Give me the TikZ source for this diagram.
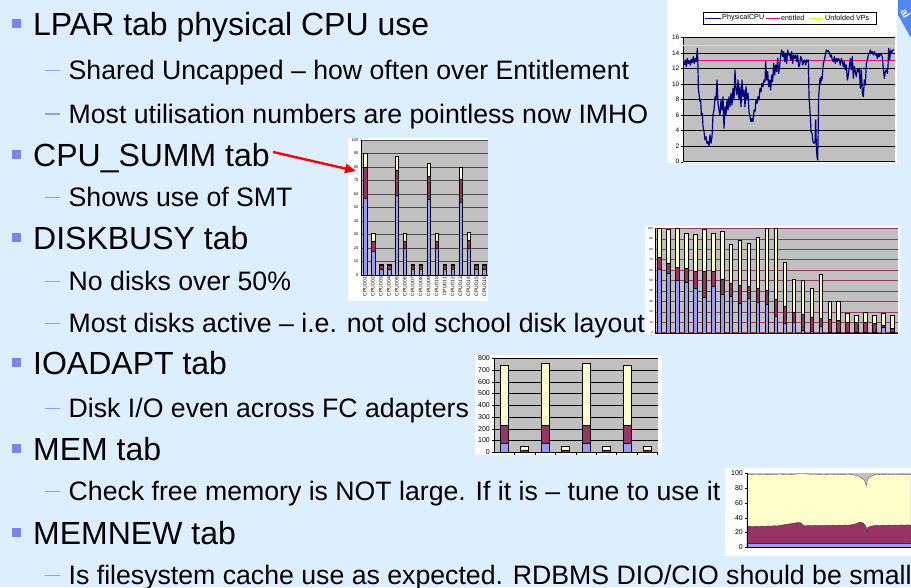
\documentclass[tikz,border=0pt]{standalone}
\usepackage{fontspec}
\setmainfont{Liberation Sans}
\usetikzlibrary{arrows.meta}
\definecolor{slidebg}{HTML}{DDEEFF}
\definecolor{bulletsq}{HTML}{8080F2}
\definecolor{dashcol}{HTML}{8FA0FF}
\definecolor{plotgray}{HTML}{C0C0C0}
\definecolor{serblue}{HTML}{9999FF}
\definecolor{sermaroon}{HTML}{993366}
\definecolor{seryellow}{HTML}{FFFFCC}
\definecolor{cpunavy}{HTML}{000080}
\definecolor{ribbonblue}{HTML}{5088F0}
\begin{document}
\begin{tikzpicture}[x=1pt,y=-1pt,
  mainitem/.style={anchor=base west,inner sep=0pt,font=\fontsize{32}{36}\selectfont},
  subitem/.style={anchor=base west,inner sep=0pt,font=\fontsize{26.67}{30}\selectfont},
  subdash/.style={dashcol,line width=1.8pt},
  axlab/.style={anchor=east,inner sep=0pt,font=\fontsize{#1}{#1}\selectfont},
  grid/.style={line width=0.45pt},
  barseg/.style={draw=black,line width=0.3pt}]
\useasboundingbox (0,0) rectangle (911,587);
\fill[slidebg] (0,0) rectangle (911,587);

% ---------- bullets ----------
\foreach \yb in {35,166,249,374,460,544}
  \fill[bulletsq] (12,\yb-16) rectangle ++(9,9);
\foreach \yb in {79.5,123,206.5,290.5,332.5,417.5,500.5,584.5}
  \draw[subdash] (45,\yb-9) -- (60,\yb-9);

% ---------- text ----------
\node[mainitem] (t1) at (33,35) {LPAR tab physical CPU use};
\node[subitem] (t2) at (68.5,79.5) {Shared Uncapped – how often over Entitlement};
\node[subitem] (t3) at (68.5,123) {Most utilisation numbers are pointless now IMHO};
\node[mainitem] (t4) at (33,166) {CPU\_SUMM tab};
\node[subitem] (t5) at (68.5,206.5) {Shows use of SMT};
\node[mainitem] (t6) at (33,249) {DISKBUSY tab};
\node[subitem] (t7) at (68.5,290.5) {No disks over 50\%};
\node[subitem] (t8) at (68.5,332.5) {Most disks active – i.e. not old school disk layout};
\node[mainitem] (t9) at (33,374) {IOADAPT tab};
\node[subitem] (t10) at (68.5,417.5) {Disk I/O even across FC adapters};
\node[mainitem] (t11) at (33,460) {MEM tab};
\node[subitem] (t12) at (68.5,500.5) {Check free memory is NOT large. If it is – tune to use it};
\node[mainitem] (t13) at (33,544) {MEMNEW tab};
\node[subitem] (t14) at (68.5,584.5) {Is filesystem cache use as expected. RDBMS DIO/CIO should be small};

% ---------- LPAR physical CPU chart ----------
\fill[white] (667,0) rectangle (897,163);
\fill[plotgray] (683.3,37.3) rectangle (895,161.7);
\foreach \v in {0,2,...,16}{
  \draw[grid] (683.3,{161.7-\v*7.775}) -- (895,{161.7-\v*7.775});
  \draw[line width=0.4pt] (681,{161.7-\v*7.775}) -- (683.3,{161.7-\v*7.775});
  \node[axlab=6.5] at (679.5,{161.7-\v*7.775}) {\v};
}
\draw[line width=0.4pt] (683.3,37.3) -- (683.3,161.7);
\draw[yellow,line width=1pt] (683.3,45.1) -- (895,45.1);
\draw[magenta,line width=1pt] (683.3,60.6) -- (895,60.6);
\begin{scope}[shift={(645,0)},scale=1/3]
\draw[cpunavy,line width=1.2pt,line join=round] plot coordinates {
(118,195)(121,180)(124,200)(127,175)(130,190)(133,182)(136,195)(139,178)(142,188)(145,170)(148,190)(151,175)(154,185)(157,145)(159,200)(160,265)(163,290)(165,305)(167,300)(169,345)(172,340)(174,380)(177,395)(180,420)(183,410)(186,430)(189,425)(192,438)(195,405)(198,430)(201,410)(204,345)(207,330)(210,290)(213,300)(216,240)(219,310)(222,330)(225,345)(228,300)(231,330)(234,290)(237,385)(240,320)(243,345)(246,300)(249,330)(252,290)(255,320)(258,280)(261,315)(264,265)(267,300)(270,210)(273,270)(276,285)(279,240)(282,300)(285,260)(288,320)(291,240)(294,290)(297,270)(300,320)(303,260)(306,300)(309,280)(312,335)(315,350)(318,365)(321,355)(324,365)(327,330)(330,335)(333,300)(336,310)(339,290)(342,300)(345,265)(348,275)(351,250)(354,260)(357,240)(360,245)(362,185)(365,240)(368,215)(371,260)(374,240)(377,270)(380,225)(383,245)(386,190)(389,225)(392,195)(395,215)(398,175)(401,220)(404,200)(407,165)(410,150)(413,170)(416,155)(419,185)(422,160)(425,190)(428,150)(431,165)(434,160)(437,180)(440,155)(443,190)(446,165)(449,175)(452,165)(455,185)(458,165)(461,200)(464,195)(467,170)(470,175)(473,195)(476,185)(479,180)(482,195)(485,180)(488,185)(490,180)(492,290)(494,320)(496,350)(498,395)(501,400)(504,425)(507,430)(510,428)(512,360)(514,440)(516,470)(518,480)(519,430)(521,290)(523,260)(525,235)(527,250)(529,230)(531,240)(533,215)(535,190)(538,180)(541,165)(544,150)(547,155)(550,152)(553,158)(556,170)(559,165)(562,180)(565,185)(568,170)(571,190)(574,175)(577,185)(580,175)(583,180)(586,195)(589,175)(592,185)(595,200)(598,185)(601,210)(604,195)(607,240)(610,225)(613,200)(616,175)(619,210)(622,170)(625,235)(628,200)(631,215)(634,230)(637,205)(640,215)(643,205)(646,265)(649,210)(652,280)(655,290)(658,240)(661,255)(664,190)(667,180)(670,165)(673,160)(676,150)(679,160)(682,155)(685,165)(688,155)(691,165)(694,160)(697,175)(700,160)(703,170)(706,160)(709,165)(712,170)(715,205)(718,235)(721,215)(724,210)(727,220)(729,200)(731,145)(734,180)(737,150)(740,160)(743,150)(747,150)};
\end{scope}
% legend
\draw[fill=white,line width=0.4pt] (703,12) rectangle (876,24);
\draw[cpunavy,line width=1pt] (705,18) -- (721,18);
\node[anchor=west,inner sep=0pt,font=\fontsize{7.2}{8}\selectfont] (lg1) at (722,18) {PhysicalCPU};
\draw[magenta,line width=1pt] (766,18) -- (780,18);
\node[anchor=west,inner sep=0pt,font=\fontsize{7.2}{8}\selectfont] (lg2) at (781,18) {entitled};
\draw[yellow,line width=1pt] (809,18) -- (823,18);
\node[anchor=west,inner sep=0pt,font=\fontsize{7.2}{8}\selectfont] (lg3) at (825,18) {Unfolded VPs};

% ---------- CPU_SUMM chart ----------
\fill[white] (348,138) rectangle (488,301);
\fill[plotgray] (361,140) rectangle (488,275);
\foreach \v in {0,10,...,100}{
  \draw[grid,black!70] (361,{275-\v*1.35}) -- (488,{275-\v*1.35});
  \node[axlab=4] at (358.5,{275-\v*1.35}) {\v};
}
\draw[line width=0.4pt] (361,140) -- (361,275) -- (488,275);
\begin{scope}[shift={(0,275)},yscale=-1.35]
\foreach \i/\b/\r/\w in {1/57/80/90,2/18/25/31,3/4/7/8,4/4/7/8,5/59/78/88,6/20/25/31,7/4/7/8,8/4/7/8,9/56/73/83,10/20/25/31,11/4/7/8,12/4/7/8,13/54/71/80,14/20/26/32,15/4/7/8,16/4/7/8}{
  \pgfmathsetmacro\xc{365+(\i-1)*7.96}
  \filldraw[barseg,fill=serblue] (\xc-1.8,0) rectangle (\xc+1.8,\b);
  \filldraw[barseg,fill=sermaroon] (\xc-1.8,\b) rectangle (\xc+1.8,\r);
  \filldraw[barseg,fill=seryellow] (\xc-1.8,\r) rectangle (\xc+1.8,\w);
}
\end{scope}
\foreach \i/\lab in {1/CPU001,2/CPU002,3/CPU003,4/CPU004,5/CPU005,6/CPU006,7/CPU007,8/CPU008,9/CPU009,10/CPU010,11/CPU011,12/CPU012,13/CPU013,14/CPU014,15/CPU015,16/CPU016}{
  \pgfmathsetmacro\xc{365+(\i-1)*7.96}
  \node[rotate=90,anchor=east,inner sep=0pt,font=\fontsize{5}{5}\selectfont] at (\xc,277) {\lab};
}

% ---------- DISKBUSY chart ----------
\fill[white] (645,226) rectangle (900,335);
\fill[plotgray] (655,228.3) rectangle (898,332.7);
\foreach \v in {0,10,...,100}{
  \draw[grid,sermaroon] (655,{332.7-\v*1.044}) -- (898,{332.7-\v*1.044});
  \node[axlab=3] at (653,{332.7-\v*1.044}) {\v};
}
\draw[line width=0.4pt] (655,228.3) -- (655,332.7) -- (898,332.7);
\begin{scope}[shift={(0,332.7)},yscale=-1.044]
\foreach \i/\b/\r/\w in {1/61/72/100,2/57/67/99,3/50/63/100,4/48.5/62/95,5/43/59/94,6/34.5/59/99,7/45/58.5/95,8/37/51.5/97,9/35/47/85,10/28/46/89,11/33.5/45/86,12/29/42.5/92,13/27/41/100,14/16/32/100,15/9/25.5/68,16/10/20/51,17/2.5/18/50,18/1.5/15/42.5,19/6/14/56,20/1/13/30,21/1/12/30,22/0.5/10.5/19,23/0.5/10/16.5,24/0.5/10/20,25/0.5/9/16.5,26/5/7/18.5,27/1/4/16.5}{
  \pgfmathsetmacro\xc{659.3+(\i-1)*8.95}
  \filldraw[barseg,fill=serblue] (\xc-1.7,0) rectangle (\xc+1.7,\b);
  \filldraw[barseg,fill=sermaroon] (\xc-1.7,\b) rectangle (\xc+1.7,\r);
  \filldraw[barseg,fill=seryellow] (\xc-1.7,\r) rectangle (\xc+1.7,\w);
}
\end{scope}

% ---------- IOADAPT chart ----------
\fill[white] (475,355) rectangle (662,455);
\fill[plotgray] (494,358.3) rectangle (658,452.3);
\foreach \v in {0,100,...,800}{
  \draw[grid] (494,{452.3-\v*0.1175}) -- (658,{452.3-\v*0.1175});
  \draw[line width=0.4pt] (492,{452.3-\v*0.1175}) -- (494,{452.3-\v*0.1175});
  \node[axlab=7] at (490,{452.3-\v*0.1175}) {\v};
}
\draw[line width=0.4pt] (494,358.3) -- (494,452.3) -- (658,452.3);
\foreach \xt in {514.3,535,555,575.7,596,616.3,637,657}
  \draw[line width=0.4pt] (\xt,452.3) -- (\xt,455);
\begin{scope}[shift={(0,452.3)},yscale=-0.1175]
\foreach \xc/\b/\r/\w in {504/75/230/740,524.3/3/15/55,545/75/235/755,565/3/15/55,585.7/75/235/755,605.7/3/15/55,626.7/75/230/740,646.7/3/15/55}{
  \filldraw[barseg,fill=serblue] (\xc-4,0) rectangle (\xc+4,\b);
  \filldraw[barseg,fill=sermaroon] (\xc-4,\b) rectangle (\xc+4,\r);
  \filldraw[barseg,fill=seryellow] (\xc-4,\r) rectangle (\xc+4,\w);
}
\end{scope}

% ---------- MEM chart ----------
\fill[white] (725,468) rectangle (911,556);
\foreach \v in {0,20,...,100}{
  \draw[line width=0.4pt] (745,{547.3-\v*0.74}) -- (747,{547.3-\v*0.74});
  \node[axlab=7] at (743,{547.3-\v*0.74}) {\v};
}
\begin{scope}[shift={(747,547.3)},yscale=-0.74]
\fill[plotgray] (0,0) rectangle (164,100);
\filldraw[fill=seryellow,draw=black!70,line width=0.35pt] (0,0) -- plot coordinates {
(0,98.8)(4,98.2)(8,99)(12,98.4)(16,98.9)(20,98.1)(24,98.7)(28,98.3)(32,99.1)(36,98.5)(40,98.9)(44,98.2)(48,98.8)(52,99.3)(56,99.5)(60,99.2)(64,98.6)(68,98.9)(72,98.4)(76,98.8)(80,98.5)(84,99)(88,98.3)(92,98.7)(96,98.2)(100,98.8)(104,98.5)(108,97.5)(112,96)(114,94)(117,91.5)(119.5,84)(120.5,91.5)(122,94.5)(125,96.5)(128,98.2)(132,98.6)(136,98.1)(140,98.8)(144,98.3)(148,98.9)(152,98.4)(156,98.7)(160,98.2)(164,98.6)} -- (164,0) -- cycle;
\filldraw[fill=sermaroon,draw=black!80,line width=0.35pt] (0,0) -- plot coordinates {
(0,28)(3,28.6)(6,27.8)(9,28.4)(12,28.1)(15,28.7)(18,28.2)(21,28.9)(24,28.4)(27,29.2)(30,28.8)(33,29.5)(36,30.2)(39,31)(42,31.5)(45,32.2)(48,32.8)(51,33.4)(54,33)(56,29.5)(59,29)(62,29.6)(65,29.1)(68,29.7)(71,29.3)(74,29.8)(77,29.2)(80,29.9)(83,29.4)(86,30)(89,29.5)(92,30.1)(95,29.6)(98,30.2)(101,29.7)(104,30.4)(107,31)(110,32.5)(113,34)(116,33)(118,30)(119.5,26)(120,21)(120.5,26.5)(124,28.5)(127,29.2)(130,29.8)(133,29.3)(136,30)(139,29.5)(142,30.1)(145,29.6)(148,30.2)(151,29.7)(154,30.3)(157,29.8)(160,30.3)(164,29.9)} -- (164,0) -- cycle;
\filldraw[fill=serblue,draw=black!80,line width=0.35pt] (0,0) rectangle (164,5);
\draw[line width=0.4pt] (0,100) -- (0,0) -- (164,0);
\end{scope}

% ---------- arrow to the CPU_SUMM chart ----------
\coordinate (arrowtail) at (273,152);
\coordinate (arrowtip) at (356,171);
\draw[red,line width=2.4pt,-{Triangle[length=11pt,width=9pt]}] (arrowtail) -- (arrowtip);

% ---------- corner ribbon ----------
\fill[ribbonblue] (898,0) -- (911,0) -- (911,38) -- (898,15) -- cycle;
\node[rotate=-60,text=white,inner sep=0pt,font=\bfseries\fontsize{10.5}{10.5}\selectfont] (rib) at (905.5,13) {al};
\end{tikzpicture}
\end{document}
